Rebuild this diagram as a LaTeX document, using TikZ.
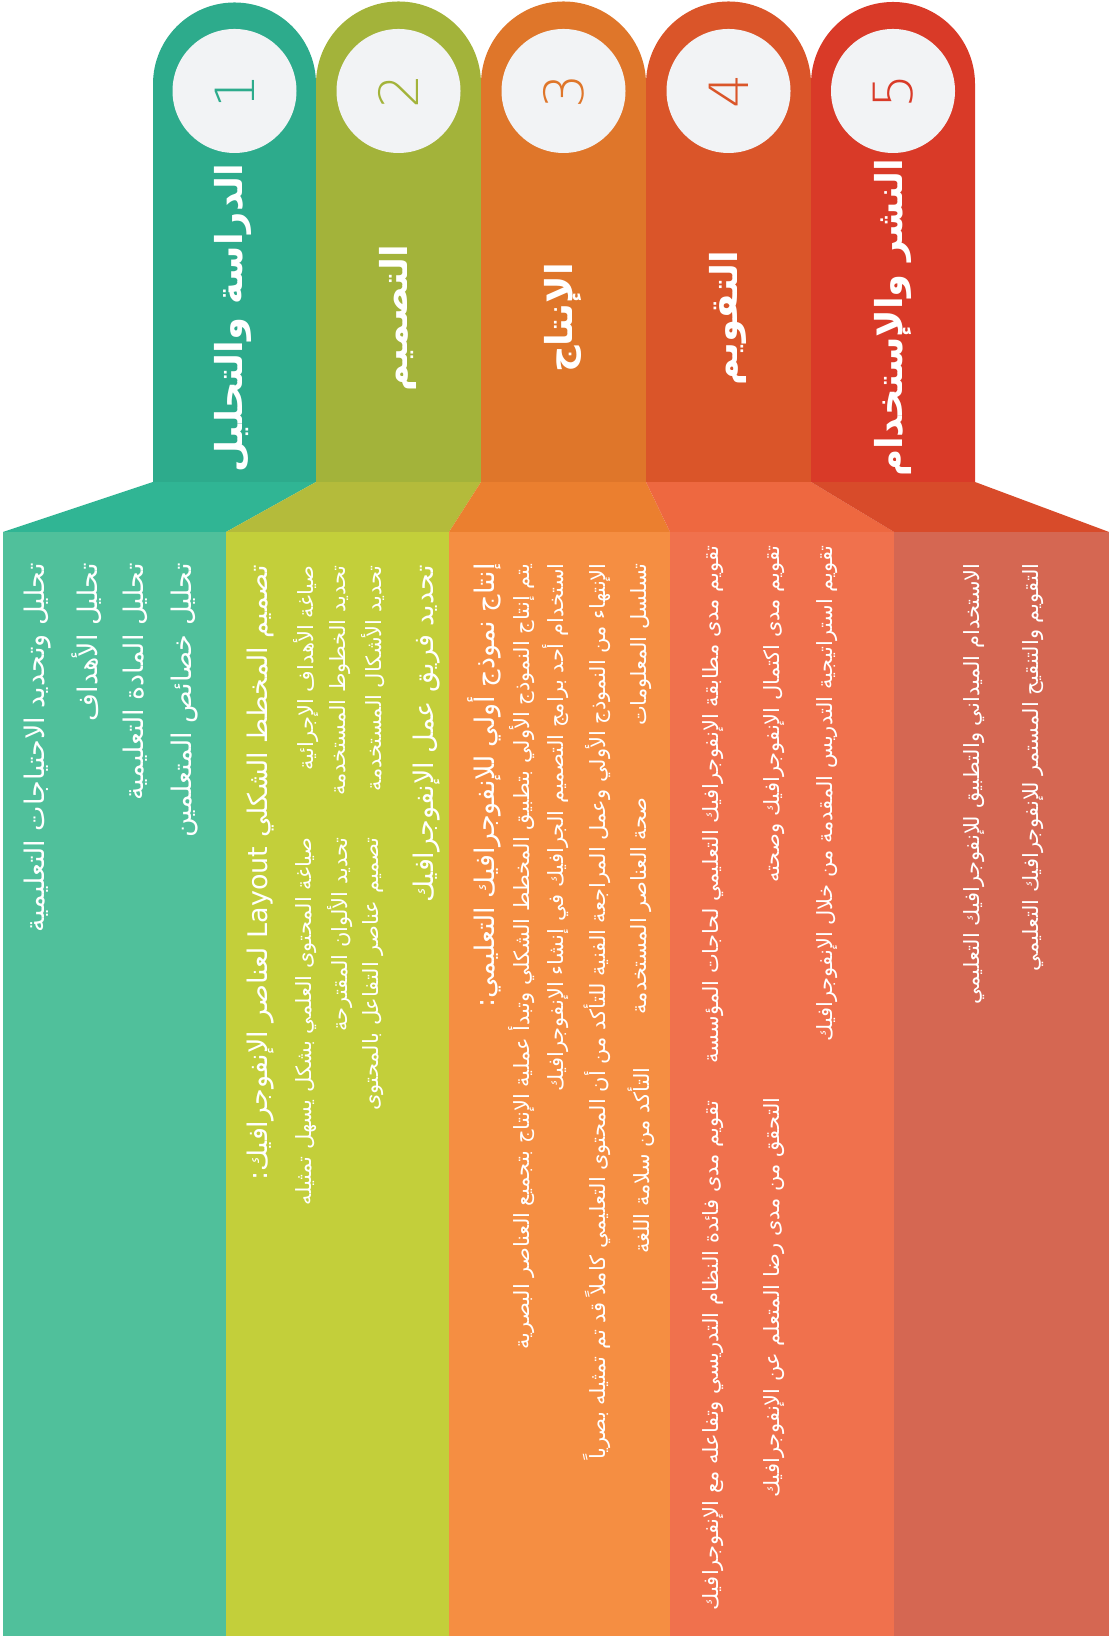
\documentclass[tikz,border=0pt]{standalone}
\usepackage{fontspec}
\usepackage{xcolor}
\usepackage{tikz}
\newfontfamily\arabicfont[Script=Arabic]{DejaVu Sans}
\newfontfamily\digitfont{DejaVu Sans ExtraLight}
\TeXXeTstate=1
\newcommand{\artxt}[1]{\beginR #1\endR}

% colours of the five stages: tab, slanted band, column
\definecolor{tab1}{HTML}{2DAB8C}
\definecolor{tab2}{HTML}{A3B33A}
\definecolor{tab3}{HTML}{DF762A}
\definecolor{tab4}{HTML}{DA5529}
\definecolor{tab5}{HTML}{D93A28}
\definecolor{trap1}{HTML}{30B594}
\definecolor{trap2}{HTML}{B4BB3B}
\definecolor{trap3}{HTML}{EB7F2F}
\definecolor{trap4}{HTML}{EE6840}
\definecolor{trap5}{HTML}{D84B2A}
\definecolor{col1}{HTML}{50C09B}
\definecolor{col2}{HTML}{C3CF3A}
\definecolor{col3}{HTML}{F58E42}
\definecolor{col4}{HTML}{F0714D}
\definecolor{col5}{HTML}{D56752}
\definecolor{disc}{HTML}{F2F3F5}

\tikzset{
  bigline/.style={rotate=90, anchor=east, inner sep=0pt, text=white,
    font=\arabicfont\fontsize{13.5}{16}\selectfont},
  smallline/.style={rotate=90, anchor=east, inner sep=0pt, text=white,
    font=\arabicfont\fontsize{10.5}{12}\selectfont},
  headline/.style={rotate=90, inner sep=0pt, text=white,
    font=\arabicfont\bfseries\fontsize{18.5}{22}\selectfont},
  stepnum/.style={rotate=90, inner sep=0pt,
    font=\digitfont\fontsize{27}{30}\selectfont},
}

\begin{document}
\begin{tikzpicture}[x=0.5pt, y=0.5pt]
    \useasboundingbox (0,0) rectangle (1109,1636);

    % columns, slanted bands and rounded tabs
    \foreach \lo/\hi/\tl/\tr/\num in {3/226/153/316/1, 226/449/316/481/2,
        449/670/481/646/3, 670/894/646/811/4, 894/1109/811/975/5} {
        \fill[col\num] (\lo,0) rectangle (\hi,1104);
        \fill[trap\num] (\lo,1104) -- (\tl,1154) -- (\tr,1154) -- (\hi,1104) -- cycle;
        \fill[tab\num] (\tl,1154) -- (\tl,1552)
            arc[start angle=180, end angle=0, radius={(\tr-\tl)/2}] -- (\tr,1154) -- cycle;
        \fill[disc] ({(\tl+\tr)/2},1545) circle (62);
        \node[stepnum, text=tab\num] (num\num) at ({(\tl+\tr)/2},1545) {\num};
    }

    % stage titles
    \node[headline] (head1) at (233,1318) {\artxt{الدراسة والتحليل}};
    \node[headline] (head2) at (398,1318) {\artxt{التصميم}};
    \node[headline] (head3) at (563,1318) {\artxt{الإنتاج}};
    \node[headline] (head4) at (728,1318) {\artxt{التقويم}};
    \node[headline] (head5) at (893,1318) {\artxt{النشر والإستخدام}};

    % stage 1
    \node[bigline] (s1a) at (38,1073) {\artxt{تحليل وتحديد الاحتياجات التعليمية}};
    \node[bigline] (s1b) at (87,1073) {\artxt{تحليل الأهداف}};
    \node[bigline] (s1c) at (135,1073) {\artxt{تحليل المادة التعليمية}};
    \node[bigline] (s1d) at (185,1073) {\artxt{تحليل خصائص المتعلمين}};

    % stage 2
    \node[bigline] (s2a) at (261,1071) {\artxt{تصميم المخطط الشكلي \beginL Layout\endL{} لعناصر الإنفوجرافيك:}};
    \node[smallline] (s2b) at (306,1071) {\artxt{صياغة الأهداف الإجرائية}};
    \node[smallline] (s2c) at (306,799) {\artxt{صياغة المحتوى العلمي بشكل يسهل تمثيله}};
    \node[smallline] (s2d) at (340,1071) {\artxt{تحديد الخطوط المستخدمة}};
    \node[smallline] (s2e) at (340,799) {\artxt{تحديد الألوان المقترحة}};
    \node[smallline] (s2f) at (373,1071) {\artxt{تحديد الأشكال المستخدمة}};
    \node[smallline] (s2g) at (373,799) {\artxt{تصميم عناصر التفاعل بالمحتوى}};
    \node[bigline] (s2h) at (427,1071) {\artxt{تحديد فريق عمل الإنفوجرافيك}};

    % stage 3
    \node[bigline] (s3a) at (484,1073) {\artxt{إنتاج نموذج أولي للإنفوجرافيك التعليمي:}};
    \node[smallline] (s3b) at (522,1073) {\artxt{يتم إنتاج النموذج الأولي بتطبيق المخطط الشكلي وتبدأ عملية الإنتاج بتجميع العناصر البصرية}};
    \node[smallline] (s3c) at (556,1073) {\artxt{استخدام أحد برامج التصميم الجرافيك في إنشاء الإنفوجرافيك}};
    \node[smallline] (s3d) at (597,1073) {\artxt{الإنتهاء من النموذج الأولي وعمل المراجعة الفنية للتأكد من أن المحتوى التعليمي كاملاً قد تم تمثيله بصرياً}};
    \node[smallline] (s3e) at (641,1073) {\artxt{تسلسل المعلومات}};
    \node[smallline] (s3f) at (641,839) {\artxt{صحة العناصر المستخدمة}};
    \node[smallline] (s3g) at (641,569) {\artxt{التأكد من سلامة اللغة}};

    % stage 4
    \node[smallline] (s4a) at (713,1091) {\artxt{تقويم مدى مطابقة الإنفوجرافيك التعليمي لحاجات المؤسسة}};
    \node[smallline] (s4b) at (713,536) {\artxt{تقويم مدى فائدة النظام التدريسي وتفاعله مع الإنفوجرافيك}};
    \node[smallline] (s4c) at (774,1091) {\artxt{تقويم مدى اكتمال الإنفوجرافيك وصحته}};
    \node[smallline] (s4d) at (774,539) {\artxt{التحقق من مدى رضا المتعلم عن الإنفوجرافيك}};
    \node[smallline] (s4e) at (827,1091) {\artxt{تقويم استراتيجية التدريس المقدمة من خلال الإنفوجرافيك}};

    % stage 5
    \node[smallline] (s5a) at (974,1073) {\artxt{الاستخدام الميداني والتطبيق للإنفوجرافيك التعليمي}};
    \node[smallline] (s5b) at (1033,1073) {\artxt{التقويم والتنقيح المستمر للإنفوجرافيك التعليمي}};
\end{tikzpicture}
\end{document}
